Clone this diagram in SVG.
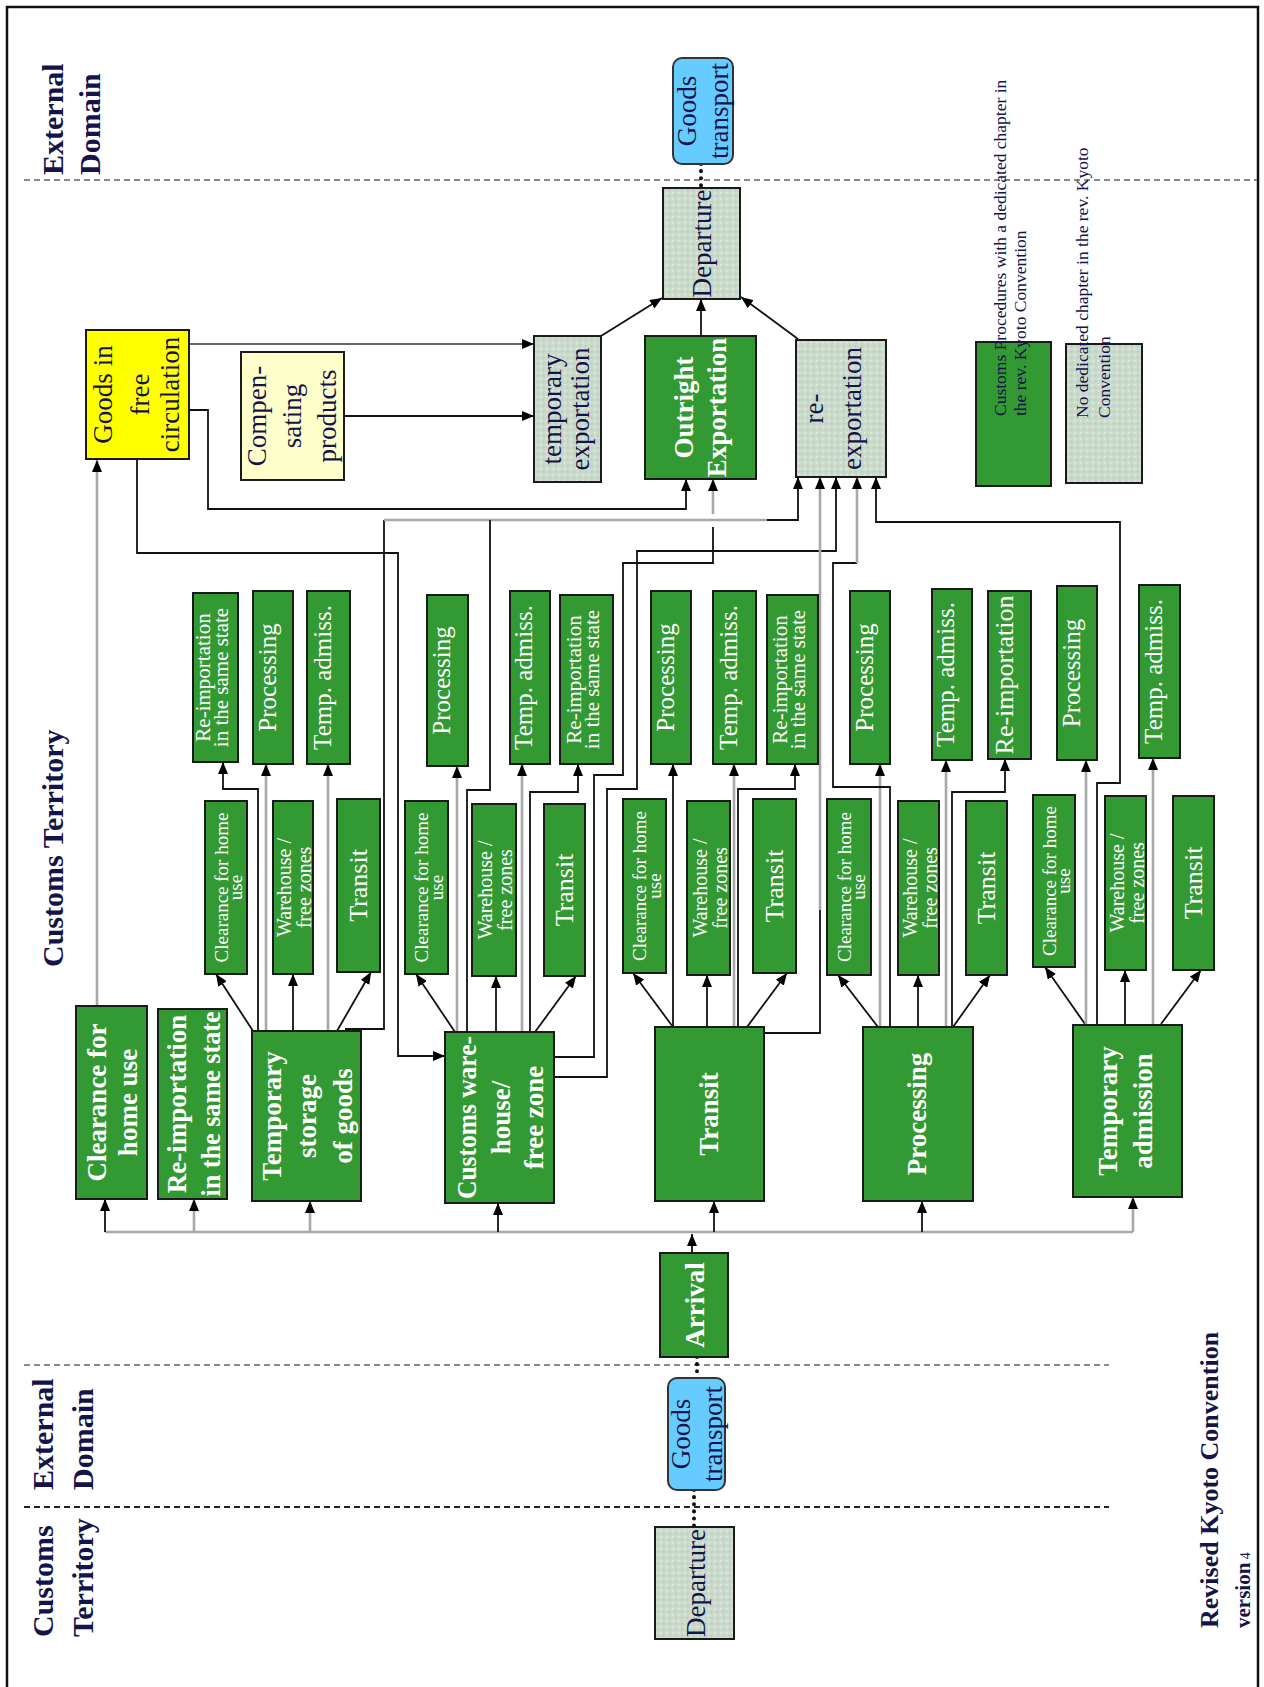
<svg xmlns="http://www.w3.org/2000/svg" width="1264" height="1687" viewBox="0 0 1264 1687">
<defs>
<pattern id="dots" width="6" height="6" patternUnits="userSpaceOnUse"><rect width="6" height="6" fill="#CBDBCB"/><rect x="0" y="0" width="1.5" height="1.5" fill="#E6EEE6"/><rect x="3" y="3" width="1.5" height="1.5" fill="#B3C6B3"/></pattern>
<marker id="ah" viewBox="0 0 12 10" refX="12" refY="5" markerWidth="12" markerHeight="10" markerUnits="userSpaceOnUse" orient="auto"><path d="M0,0 L12,5 L0,10 z" fill="#000"/></marker>
</defs>
<style>
.g{fill:#339933;stroke:#1a1a1a;stroke-width:2}
.d{fill:url(#dots);stroke:#1a1a1a;stroke-width:2}
.y{fill:#FFFF00;stroke:#1a1a1a;stroke-width:2}
.ly{fill:#FFFFCC;stroke:#1a1a1a;stroke-width:2}
.bl{fill:#66CCFF;stroke:#333;stroke-width:2}
.t{font-family:"Liberation Serif","Times New Roman",serif;text-anchor:middle}
.ts{font-family:"Liberation Serif","Times New Roman",serif;text-anchor:start}
.w{fill:#ffffff}
.n{fill:#14144a}
.b{font-weight:bold}
.f17{font-size:17.5px}
.f19{font-size:19px}
.f20{font-size:20px}
.f21{font-size:21px}
.f25{font-size:25px}
.f26{font-size:26px}
.f27{font-size:27px}
.f30{font-size:30px}
.k{fill:none;stroke:#111;stroke-width:1.8}
.gr{fill:none;stroke:#a8a8a8;stroke-width:2.6}
.dg{fill:none;stroke:#666;stroke-width:2}
.ar{marker-end:url(#ah)}
.dash{fill:none;stroke:#8a8a8a;stroke-width:2;stroke-dasharray:6 4}
.dashk{fill:none;stroke:#222;stroke-width:2;stroke-dasharray:6 4}
.dot{fill:none;stroke:#111;stroke-width:4;stroke-dasharray:0.1 7;stroke-linecap:round}
</style>
<rect width="1264" height="1687" fill="#fff"/>
<rect x="7" y="7" width="1251" height="1700" fill="none" stroke="#111" stroke-width="2.5"/>

<g id="zones">
<path class="dash" d="M24,180 H1257"/>
<path class="dash" d="M24,1365 H1109"/>
<path class="dashk" d="M24,1507 H1109"/>
<text class="ts n b f30" transform="translate(63,175) rotate(-90)">External</text>
<text class="ts n b f30" transform="translate(100,175) rotate(-90)">Domain</text>
<text class="ts n b f30" transform="translate(63,967) rotate(-90)">Customs Territory</text>
<text class="ts n b f30" transform="translate(53,1490) rotate(-90)">External</text>
<text class="ts n b f30" transform="translate(93,1490) rotate(-90)">Domain</text>
<text class="ts n b f30" transform="translate(53,1637) rotate(-90)">Customs</text>
<text class="ts n b f30" transform="translate(93,1637) rotate(-90)">Territory</text>
<text class="ts n b f26" transform="translate(1218,1628) rotate(-90)">Revised Kyoto Convention</text>
<text class="ts n b" font-size="21" transform="translate(1250,1628) rotate(-90)">version<tspan font-size="14" font-weight="normal"> 4</tspan></text>
</g>

<g id="connectors">
<path class="dot" d="M701,164 V188"/>
<path class="dot" d="M697,1357 V1378"/>
<path class="dot" d="M694,1490 V1527"/>
<path class="k ar" d="M601,336 L662,298"/>
<path class="k ar" d="M701,336 V299"/>
<path class="k ar" d="M798,339 L741,297"/>
<path class="gr ar" d="M97,1006 V460"/>
<path class="dg ar" d="M189,344 H534"/>
<path class="k ar" d="M344,416 H534"/>
<path class="k ar" d="M189,410 H208 V509 H686 V479"/>
<path class="k ar" d="M137,459 V553 H398 V1056 H445"/>
<path class="gr" d="M105,1232 H1133"/>
<path class="k ar" d="M105,1232 V1199"/>
<path class="gr ar" d="M194,1232 V1199"/>
<path class="gr ar" d="M310,1232 V1201"/>
<path class="k ar" d="M498,1232 V1203"/>
<path class="k ar" d="M714,1232 V1201"/>
<path class="k ar" d="M922,1232 V1201"/>
<path class="gr ar" d="M1133,1232 V1197"/>
<path class="k ar" d="M692,1253 V1234"/>
<!-- temporary storage -->
<path class="k ar" d="M253,1031 L216,974"/>
<path class="k ar" d="M258,1031 V789 H223 V762"/>
<path class="gr ar" d="M266,1031 V764"/>
<path class="k ar" d="M293,1031 V974"/>
<path class="gr ar" d="M328,1031 V764"/>
<path class="k ar" d="M337,1031 L371,972"/>
<path class="k" d="M345,1029 H384 V520"/>
<path class="gr" d="M384,520 H767"/>
<path class="k ar" d="M767,520 H798 V477"/>
<!-- customs warehouse -->
<path class="k ar" d="M455,1032 L416,974"/>
<path class="gr ar" d="M457,1032 V766"/>
<path class="k" d="M467,1032 V790 H490 V520"/>
<path class="k ar" d="M496,1032 V976"/>
<path class="gr ar" d="M522,1032 V764"/>
<path class="k ar" d="M530,1032 V792 H578 V764"/>
<path class="k ar" d="M535,1032 L576,976"/>
<path class="k" d="M554,1057 H594 V775 H623 V563 H713 V527"/>
<path class="gr ar" d="M713,514 V479"/>
<path class="k ar" d="M554,1077 H607 V789 H637 V551 H836 V477"/>
<!-- transit -->
<path class="k ar" d="M673,1027 L633,973"/>
<path class="k ar" d="M673,1027 V764"/>
<path class="k ar" d="M707,1027 V975"/>
<path class="gr ar" d="M734,1027 V764"/>
<path class="k ar" d="M738,1027 V789 H795 V764"/>
<path class="k ar" d="M747,1027 L787,973"/>
<path class="k" d="M764,1033 H820 V910"/>
<path class="gr ar" d="M820,910 V477"/>
<!-- processing -->
<path class="k ar" d="M878,1027 L838,975"/>
<path class="gr ar" d="M880,1027 V764"/>
<path class="k" d="M890,1027 V787 H833 V563 H857"/>
<path class="gr ar" d="M857,563 V477"/>
<path class="k ar" d="M918,1027 V975"/>
<path class="gr ar" d="M946,1027 V760"/>
<path class="k ar" d="M952,1027 V792 H1005 V759"/>
<path class="k ar" d="M953,1027 L990,975"/>
<!-- temporary admission -->
<path class="k ar" d="M1085,1024 L1045,967"/>
<path class="gr ar" d="M1086,1024 V760"/>
<path class="k ar" d="M1097,1024 V783 H1120 V522 H876 V477"/>
<path class="k ar" d="M1125,1024 V970"/>
<path class="gr ar" d="M1153,1024 V758"/>
<path class="k ar" d="M1161,1024 L1201,970"/>
</g>

<g id="goods-transport-top"><rect class="bl" x="673" y="58" width="60" height="106" rx="9"/><text class="t n f27" transform="translate(703,111) rotate(-90)"><tspan x="0" y="-7">Goods</tspan><tspan x="0" y="25">transport</tspan></text></g>
<g id="departure-top"><rect class="d" x="663" y="188" width="77" height="111"/><text class="t n f27" transform="translate(701.5,243.5) rotate(-90)"><tspan x="0" y="9.5">Departure</tspan></text></g>
<g id="goods-free-circulation"><rect class="y" x="86" y="330" width="103" height="129"/><text class="t n f27" transform="translate(137.5,394.5) rotate(-90)"><tspan x="0" y="-25.5">Goods in</tspan><tspan x="0" y="11.5">free</tspan><tspan x="0" y="41.5">circulation</tspan></text></g>
<g id="compensating-products"><rect class="ly" x="241" y="352" width="103" height="128"/><text class="t n f27" transform="translate(292.5,416) rotate(-90)"><tspan x="0" y="-26.5">Compen-</tspan><tspan x="0" y="8.5">sating</tspan><tspan x="0" y="43.5">products</tspan></text></g>
<g id="temporary-exportation"><rect class="d" x="534" y="336" width="67" height="146"/><text class="t n f27" transform="translate(567.5,409) rotate(-90)"><tspan x="0" y="-6.5">temporary</tspan><tspan x="0" y="21.5">exportation</tspan></text></g>
<g id="outright-exportation"><rect class="g" x="645" y="336" width="111" height="143"/><text class="t w b f27" transform="translate(700.5,407.5) rotate(-90)"><tspan x="0" y="-7.5">Outright</tspan><tspan x="0" y="25.5">Exportation</tspan></text></g>
<g id="re-exportation"><rect class="d" x="796" y="340" width="90" height="137"/><text class="t n f27" transform="translate(841,408.5) rotate(-90)"><tspan x="0" y="-18">re-</tspan><tspan x="0" y="20">exportation</tspan></text></g>
<g id="legend-dedicated"><rect class="g" x="976" y="342" width="75" height="144"/><text class="ts n f17" transform="translate(1006,416) rotate(-90)"><tspan x="0" y="0">Customs Procedures with a dedicated chapter in</tspan><tspan x="0" y="20">the rev. Kyoto Convention</tspan></text></g>
<g id="legend-no-chapter"><rect class="d" x="1066" y="344" width="76" height="139"/><text class="ts n f17" transform="translate(1088,418) rotate(-90)"><tspan x="0" y="0">No dedicated chapter in the rev. Kyoto</tspan><tspan x="0" y="22">Convention</tspan></text></g>

<g id="clearance-home-use"><rect class="g" x="76" y="1006" width="71" height="193"/><text class="t w b f27" transform="translate(111.5,1102.5) rotate(-90)"><tspan x="0" y="-5.5">Clearance for</tspan><tspan x="0" y="25.5">home use</tspan></text></g>
<g id="re-importation-main"><rect class="g" x="158" y="1009" width="69" height="190"/><text class="t w b f27" transform="translate(192.5,1104) rotate(-90)"><tspan x="0" y="-6.5">Re-importation</tspan><tspan x="0" y="27" textLength="185" lengthAdjust="spacingAndGlyphs">in the same state</tspan></text></g>
<g id="temporary-storage"><rect class="g" x="252" y="1031" width="109" height="170"/><text class="t w b f27" transform="translate(306.5,1116) rotate(-90)"><tspan x="0" y="-25.5">Temporary</tspan><tspan x="0" y="9.5">storage</tspan><tspan x="0" y="45">of goods</tspan></text></g>
<g id="customs-warehouse"><rect class="g" x="445" y="1032" width="109" height="171"/><text class="t w b f27" transform="translate(499.5,1117.5) rotate(-90)"><tspan x="0" y="-23.5" textLength="163" lengthAdjust="spacingAndGlyphs">Customs ware-</tspan><tspan x="0" y="10.5">house/</tspan><tspan x="0" y="43.5">free zone</tspan></text></g>
<g id="transit-main"><rect class="g" x="655" y="1027" width="109" height="174"/><text class="t w b f27" transform="translate(709.5,1114) rotate(-90)"><tspan x="0" y="8.5">Transit</tspan></text></g>
<g id="processing-main"><rect class="g" x="863" y="1027" width="110" height="174"/><text class="t w b f27" transform="translate(918,1114) rotate(-90)"><tspan x="0" y="8">Processing</tspan></text></g>
<g id="temporary-admission"><rect class="g" x="1073" y="1025" width="109" height="172"/><text class="t w b f27" transform="translate(1127.5,1111) rotate(-90)"><tspan x="0" y="-10.5">Temporary</tspan><tspan x="0" y="24.5">admission</tspan></text></g>
<g id="arrival"><rect class="g" x="660" y="1253" width="68" height="104"/><text class="t w b f27" transform="translate(694,1305) rotate(-90)"><tspan x="0" y="10">Arrival</tspan></text></g>
<g id="goods-transport-bottom"><rect class="bl" x="668" y="1378" width="57" height="112" rx="9"/><text class="t n f27" transform="translate(696.5,1434) rotate(-90)"><tspan x="0" y="-6.5">Goods</tspan><tspan x="0" y="25.5">transport</tspan></text></g>
<g id="departure-bottom"><rect class="d" x="655" y="1527" width="79" height="112"/><text class="t n f27" transform="translate(694.5,1583) rotate(-90)"><tspan x="0" y="10.5">Departure</tspan></text></g>

<!-- temporary storage sub-procedures -->
<g id="ts-clearance"><rect class="g" x="205" y="801" width="42" height="173"/><text class="t w f19" transform="translate(226,887.5) rotate(-90)"><tspan x="0" y="1.5">Clearance for home</tspan><tspan x="0" y="16">use</tspan></text></g>
<g id="ts-warehouse"><rect class="g" x="273" y="801" width="40" height="173"/><text class="t w f20" transform="translate(293,887.5) rotate(-90)"><tspan x="0" y="-2">Warehouse /</tspan><tspan x="0" y="18">free zones</tspan></text></g>
<g id="ts-transit"><rect class="g" x="337" y="799" width="43" height="173"/><text class="t w f26" transform="translate(358.5,885.5) rotate(-90)"><tspan x="0" y="8.5">Transit</tspan></text></g>
<g id="ts-reimport"><rect class="g" x="193" y="593" width="45" height="169"/><text class="t w f21" transform="translate(215.5,677.5) rotate(-90)"><tspan x="0" y="-5.5">Re-importation</tspan><tspan x="0" y="12.5">in the same state</tspan></text></g>
<g id="ts-processing"><rect class="g" x="253" y="591" width="40" height="173"/><text class="t w f25" transform="translate(273,677.5) rotate(-90)"><tspan x="0" y="2.5">Processing</tspan></text></g>
<g id="ts-tempadmiss"><rect class="g" x="307" y="591" width="43" height="173"/><text class="t w f25" transform="translate(328.5,677.5) rotate(-90)"><tspan x="0" y="2">Temp. admiss.</tspan></text></g>

<!-- customs warehouse sub-procedures -->
<g id="cw-clearance"><rect class="g" x="405" y="801" width="43" height="173"/><text class="t w f19" transform="translate(426.5,887.5) rotate(-90)"><tspan x="0" y="1.5">Clearance for home</tspan><tspan x="0" y="16">use</tspan></text></g>
<g id="cw-warehouse"><rect class="g" x="472" y="804" width="44" height="172"/><text class="t w f20" transform="translate(494,890) rotate(-90)"><tspan x="0" y="-2">Warehouse /</tspan><tspan x="0" y="18">free zones</tspan></text></g>
<g id="cw-transit"><rect class="g" x="544" y="804" width="41" height="172"/><text class="t w f26" transform="translate(564.5,890) rotate(-90)"><tspan x="0" y="8.5">Transit</tspan></text></g>
<g id="cw-processing"><rect class="g" x="427" y="595" width="41" height="171"/><text class="t w f25" transform="translate(447.5,680.5) rotate(-90)"><tspan x="0" y="2.5">Processing</tspan></text></g>
<g id="cw-tempadmiss"><rect class="g" x="510" y="591" width="40" height="173"/><text class="t w f25" transform="translate(530,677.5) rotate(-90)"><tspan x="0" y="2">Temp. admiss.</tspan></text></g>
<g id="cw-reimport"><rect class="g" x="560" y="595" width="53" height="169"/><text class="t w f21" transform="translate(586.5,679.5) rotate(-90)"><tspan x="0" y="-5.5">Re-importation</tspan><tspan x="0" y="12.5">in the same state</tspan></text></g>

<!-- transit sub-procedures -->
<g id="tr-clearance"><rect class="g" x="623" y="799" width="43" height="174"/><text class="t w f19" transform="translate(644.5,886) rotate(-90)"><tspan x="0" y="1.5">Clearance for home</tspan><tspan x="0" y="16">use</tspan></text></g>
<g id="tr-warehouse"><rect class="g" x="687" y="801" width="43" height="174"/><text class="t w f20" transform="translate(708.5,888) rotate(-90)"><tspan x="0" y="-2">Warehouse /</tspan><tspan x="0" y="18">free zones</tspan></text></g>
<g id="tr-transit"><rect class="g" x="753" y="799" width="43" height="174"/><text class="t w f26" transform="translate(774.5,886) rotate(-90)"><tspan x="0" y="8.5">Transit</tspan></text></g>
<g id="tr-processing"><rect class="g" x="651" y="591" width="40" height="173"/><text class="t w f25" transform="translate(671,677.5) rotate(-90)"><tspan x="0" y="2.5">Processing</tspan></text></g>
<g id="tr-tempadmiss"><rect class="g" x="713" y="591" width="43" height="173"/><text class="t w f25" transform="translate(734.5,677.5) rotate(-90)"><tspan x="0" y="2">Temp. admiss.</tspan></text></g>
<g id="tr-reimport"><rect class="g" x="767" y="595" width="51" height="169"/><text class="t w f21" transform="translate(792.5,679.5) rotate(-90)"><tspan x="0" y="-5.5">Re-importation</tspan><tspan x="0" y="12.5">in the same state</tspan></text></g>

<!-- processing sub-procedures -->
<g id="pr-clearance"><rect class="g" x="827" y="799" width="44" height="176"/><text class="t w f19" transform="translate(849,887) rotate(-90)"><tspan x="0" y="1.5">Clearance for home</tspan><tspan x="0" y="16">use</tspan></text></g>
<g id="pr-warehouse"><rect class="g" x="898" y="801" width="41" height="174"/><text class="t w f20" transform="translate(918.5,888) rotate(-90)"><tspan x="0" y="-2">Warehouse /</tspan><tspan x="0" y="18">free zones</tspan></text></g>
<g id="pr-transit"><rect class="g" x="966" y="801" width="41" height="174"/><text class="t w f26" transform="translate(986.5,888) rotate(-90)"><tspan x="0" y="8.5">Transit</tspan></text></g>
<g id="pr-processing"><rect class="g" x="850" y="591" width="40" height="173"/><text class="t w f25" transform="translate(870,677.5) rotate(-90)"><tspan x="0" y="2.5">Processing</tspan></text></g>
<g id="pr-tempadmiss"><rect class="g" x="932" y="589" width="40" height="171"/><text class="t w f25" transform="translate(952,674.5) rotate(-90)"><tspan x="0" y="2">Temp. admiss.</tspan></text></g>
<g id="pr-reimport"><rect class="g" x="988" y="591" width="43" height="168"/><text class="t w f26" transform="translate(1009.5,675) rotate(-90)"><tspan x="0" y="3">Re-importation</tspan></text></g>

<!-- temporary admission sub-procedures -->
<g id="ta-clearance"><rect class="g" x="1033" y="795" width="42" height="172"/><text class="t w f19" transform="translate(1054,881) rotate(-90)"><tspan x="0" y="1.5">Clearance for home</tspan><tspan x="0" y="16">use</tspan></text></g>
<g id="ta-warehouse"><rect class="g" x="1105" y="796" width="41" height="174"/><text class="t w f20" transform="translate(1125.5,883) rotate(-90)"><tspan x="0" y="-2">Warehouse /</tspan><tspan x="0" y="18">free zones</tspan></text></g>
<g id="ta-transit"><rect class="g" x="1173" y="796" width="41" height="174"/><text class="t w f26" transform="translate(1193.5,883) rotate(-90)"><tspan x="0" y="8.5">Transit</tspan></text></g>
<g id="ta-processing"><rect class="g" x="1057" y="586" width="40" height="174"/><text class="t w f25" transform="translate(1077,673) rotate(-90)"><tspan x="0" y="2.5">Processing</tspan></text></g>
<g id="ta-tempadmiss"><rect class="g" x="1139" y="585" width="41" height="173"/><text class="t w f25" transform="translate(1159.5,671.5) rotate(-90)"><tspan x="0" y="2">Temp. admiss.</tspan></text></g>
</svg>
